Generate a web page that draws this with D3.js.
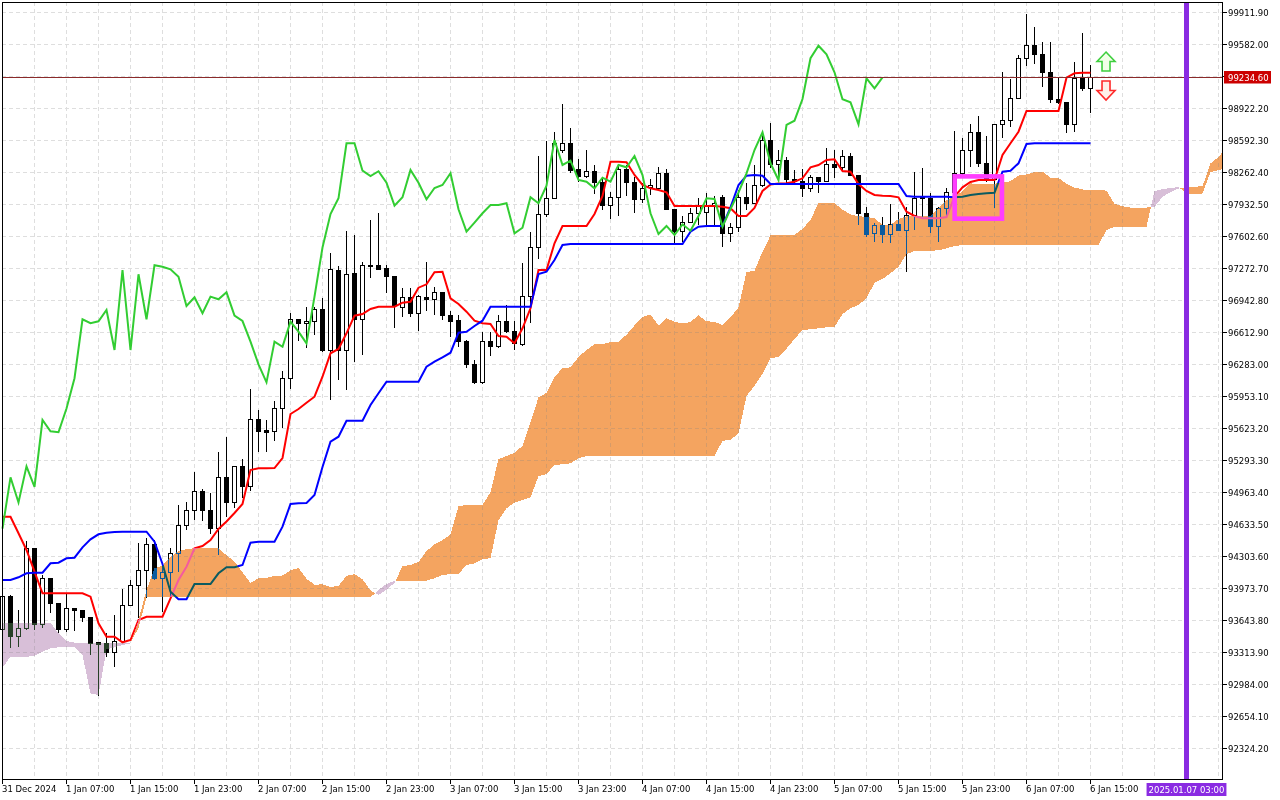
<!DOCTYPE html>
<html><head><meta charset="utf-8">
<script src="https://cdn.jsdelivr.net/npm/d3@7"></script>
<style>
html,body{margin:0;padding:0;background:#fff;overflow:hidden;}
svg{display:block;isolation:isolate;}
text{font-family:"DejaVu Sans",sans-serif;font-size:8.5px;}
</style></head><body>
<svg id="chart" width="1280" height="800"></svg>
<script>
// ---------------- DATA (BTCUSD H1, Ichimoku 9/26/52) ----------------
const timeLabels = ["31 Dec 2024","1 Jan 07:00","1 Jan 15:00","1 Jan 23:00","2 Jan 07:00","2 Jan 15:00","2 Jan 23:00","3 Jan 07:00","3 Jan 15:00","3 Jan 23:00","4 Jan 07:00","4 Jan 15:00","4 Jan 23:00","5 Jan 07:00","5 Jan 15:00","5 Jan 23:00","6 Jan 07:00","6 Jan 15:00"];
const timeLabelBars = [0,8,16,24,32,40,48,56,64,72,80,88,96,104,112,120,128,136];
const priceTicks = [92324.2,92654.1,92984.0,93313.9,93643.8,93973.7,94303.6,94633.5,94963.4,95293.3,95623.2,95953.1,96283.0,96612.9,96942.8,97272.7,97602.6,97932.5,98262.4,98592.3,98922.2,99252.1,99582.0,99911.9];
const priceTickLabels = ["92324.20","92654.10","92984.00","93313.90","93643.80","93973.70","94303.60","94633.50","94963.40","95293.30","95623.20","95953.10","96283.00","96612.90","96942.80","97272.70","97602.60","97932.50","98262.40","98592.30","98922.20","99252.10","99582.00","99911.90"];

const open = [93545,93888,93469,93555,94373,93597,94071,93813,93545,93762,
 93741,93669,93404,93394,93308,93414,93793,93999,94153,94421,
 94071,94133,94329,94613,94768,94964,94772,94582,95112,94852,
 95225,95012,95703,95592,95579,95821,96133,96741,96700,96720,
 96837,96424,97242,96424,97208,96741,97298,97298,97267,97187,
 96865,96968,96803,96968,96947,97019,96785,96731,96510,96277,
 96091,96510,96458,96716,96613,96476,96974,97483,97826,97988,
 98486,98555,98280,98218,98267,98149,97912,97999,98280,98149,
 97978,98098,98091,98246,97875,97644,97737,97834,97840,97902,
 97999,97627,97685,97994,97937,98118,98589,98332,98376,98184,
 98159,98091,98201,98159,98332,98308,98424,98228,97834,97627,
 97703,97617,97720,97654,97806,97994,97988,97696,97878,98048,
 98246,98486,98669,98349,98177,98744,98788,99012,99432,99561,
 99473,99287,99009,98978,98751,99225,99122];
const high = [93950,93899,93744,94455,94383,94105,94074,93816,93906,93765,
 93744,93672,93404,93504,93693,93961,94053,94438,94483,94466,
 94208,94386,94827,94857,95164,94988,94947,95370,95524,95229,
 95301,96022,95806,95700,95896,96210,96803,96744,96871,96871,
 96957,97421,97290,97651,97610,97335,97765,97834,97301,97187,
 97060,97060,96991,97329,97071,97022,96826,96785,96527,96321,
 96613,96613,96785,96888,96723,97318,97644,98424,98579,98675,
 98960,98710,98390,98486,98332,98211,98056,98342,98332,98211,
 98143,98187,98308,98287,97878,97806,97885,97988,98040,98012,
 98022,97731,98074,98143,98332,98675,98761,98486,98417,98280,
 98287,98228,98203,98504,98486,98486,98452,98228,97902,97737,
 97799,97930,97850,97902,98262,98298,98040,97902,98091,98682,
 98607,98754,98837,98631,98754,99293,99215,99466,99885,99751,
 99603,99603,99242,98981,99396,99689,99362];
const low = [93352,93352,93360,93538,93538,93558,93713,93507,93520,93531,
 93623,93280,92857,93256,93160,93404,93785,93658,93868,94053,
 93727,93854,94139,94569,94672,94665,94528,94311,94700,94792,
 94896,94974,95376,95370,95489,95615,96019,96520,96442,96579,
 96407,95909,96115,96012,96304,96373,97164,97249,97015,96648,
 96762,96762,96623,96830,96785,96734,96555,96458,96242,96074,
 96074,96363,96442,96600,96424,96466,96706,97359,97792,97981,
 98452,98246,98159,98194,98033,97868,97772,97806,98012,97834,
 97937,98022,98074,97868,97531,97541,97734,97713,97713,97713,
 97489,97541,97644,97868,97930,98108,98298,98211,98143,98125,
 98005,98056,98040,98156,98194,98280,98218,97713,97592,97541,
 97524,97524,97651,97232,97661,97799,97627,97541,97799,98022,
 98228,98314,98314,98156,97885,98613,98726,99007,99352,99370,
 99133,98968,98960,98665,98669,99098,98865];
const close = [93888,93469,93555,94373,93597,94071,93813,93538,93762,93737,
 93665,93401,93390,93304,93421,93793,93999,94153,94421,94071,
 94133,94329,94613,94768,94964,94768,94582,95112,94852,95225,
 95012,95703,95586,95576,95821,96133,96741,96700,96720,96837,
 96424,97249,96424,97205,96741,97298,97283,97256,97180,96878,
 96968,96803,96974,96947,97019,96778,96723,96510,96277,96091,
 96510,96458,96716,96613,96493,96974,97481,97826,97988,98555,
 98555,98273,98218,98267,98149,97912,97999,98280,98149,97978,
 98094,98125,98246,97875,97644,97737,97834,97919,97919,97937,
 97627,97685,97999,97937,98118,98589,98332,98376,98177,98159,
 98091,98201,98159,98332,98308,98424,98228,97834,97620,97703,
 97610,97720,97654,97806,97988,97981,97696,97878,98048,98246,
 98486,98669,98349,98177,98744,98788,99012,99432,99561,99473,
 99287,99009,98978,98751,99225,99122,99234.6];

const tenkan = [94705.6,94705.6,94534.5,94362.3,94138.6,93915.9,93915.9,93915.9,93915.9,93915.9,
 93915.9,93880.9,93606.6,93468.5,93468.5,93410.8,93434.5,93640.7,93674.7,93674.7,
 93674.7,93864.4,94053,94190.2,94379.9,94403.6,94465.4,94578.8,94656.1,94743.8,
 94836.6,95187.1,95204.6,95204.6,95207.7,95310.8,95764.4,95816,95880.9,95942.8,
 96148.9,96390.2,96434.5,96596.4,96777.8,96795.3,96846.9,96870.6,96870.6,96870.6,
 96911.8,96922.2,97066.5,97101.5,97225.3,97231.4,96957.2,96898.4,96819.1,96726.3,
 96699.5,96692.3,96568.5,96561.3,96493.3,96647.9,96854.1,97249,97249,97524.2,
 97702.6,97702.6,97702.6,97702.6,97826.3,98011.9,98365.5,98365.5,98359.3,98228.4,
 98125.3,98091.2,98073.7,98050,97908.8,97908.8,97908.8,97908.8,97908.8,97908.8,
 97901.5,97885.1,97805.7,97805.7,97888.1,98063.4,98130.4,98140.7,98142.8,98159.3,
 98194.3,98307.7,98331.4,98383,98390.2,98269.6,98262.4,98135.6,98063.4,98022.2,
 98015,98011.9,97998.5,97850,97805.7,97782,97782,97782,97795.4,98004.6,
 98101.5,98156.2,98176.8,98176.8,98176.8,98434.5,98555.2,98674.8,98888.2,98888.2,
 98888.2,98888.2,98888.2,99231.5,99276.8,99283,99283];
const kijun = [94053,94053,94080.9,94122.1,94128.3,94128.3,94225.2,94231.4,94276.8,94282.9,
 94390.2,94472.6,94524.2,94540.7,94547.9,94551,94551,94551,94551,94447.9,
 94218,93932.4,93854.1,93854.1,94011.8,94011.8,94011.8,94122.1,94184,94184,
 94207.7,94437.6,94447.9,94447.9,94447.9,94602.5,94836.6,94843.8,94846.9,94929.3,
 95218,95478.8,95530.4,95695.3,95695.3,95695.3,95857.2,95977.8,96097.4,96097.4,
 96097.4,96097.4,96097.4,96252,96303.6,96349,96396.4,96602.6,96612.9,96671.6,
 96726.3,96870.6,96870.6,96870.6,96870.6,96870.6,96870.6,97207.7,97231.4,97352.1,
 97506.7,97517,97517,97517,97517,97517,97517,97517,97517,97517,
 97517,97517,97517,97517,97517,97517,97643.8,97695.4,97702.6,97702.6,
 97702.6,97895.4,98125.3,98221.1,98228.4,98221.1,98135.6,98135.6,98135.6,98135.6,
 98135.6,98135.6,98135.6,98135.6,98135.6,98135.6,98135.6,98135.6,98135.6,98135.6,
 98135.6,98135.6,98135.6,98011.9,98004.6,98004.6,98004.6,98004.6,98004.6,97998.5,
 98004.6,98022.2,98032.5,98039.7,98045.9,98262.4,98272.7,98349,98547.9,98555.2,
 98555.2,98555.2,98555.2,98555.2,98555.2,98555.2,98555.2];
// Senkou spans, already shifted 26 bars forward (bars 0..153)
const senkouA = [93148.9,93262.3,93262.3,93262.3,93269.5,93313.9,93348.9,93359.2,93365.4,93365.4,
 93279.8,92885,92867.5,93338.6,93359.2,93382.9,93400.5,93640.7,93950,94173.7,
 94200.5,94293.3,94352,94372.6,94379.9,94379.9,94379.3,94379.3,94307.7,94242.2,
 94133.5,94022.1,94070.6,94073.7,94096.4,94099.4,94153.1,94176.8,94065.4,94004.6,
 94008.2,93980.9,93992.8,94095.9,94112.9,94061.3,93946.4,93898.4,93953.6,94022.2,
 94195.9,94207.7,94238.6,94350.5,94420.1,94463.9,94522.2,94812.4,94826.3,94826.3,
 94827.8,94956.7,95300.5,95329.9,95363.9,95436.1,95683.5,95934.5,95982.5,96145.9,
 96236.6,96245.3,96352.1,96424.2,96484,96484,96504.6,96509.8,96582,96676.8,
 96764.5,96790.2,96676.8,96750.5,96716,96699,96712.9,96781.5,96719.6,96716,
 96682,96759.3,96862.4,97228.4,97240.2,97438.2,97604.7,97609.8,97609.8,97609.8,
 97671.7,97764.5,97941.3,97941.3,97938.2,97872.7,97821.2,97804.1,97795.4,97783.5,
 97712.9,97712.9,97776.3,97802.1,97805.7,97805.7,97802.1,97890.3,97965.5,98013.4,
 98058.3,98142.3,98133,98138.2,98139.2,98147.5,98165,98221.7,98233.5,98259.3,
 98262.9,98202.6,98199,98135.6,98099.5,98078.9,98075.3,98073.8,98067.1,97931,
 97905.2,97893.3,97893.3,97893.3,97900,98001.6,98053.1,98089.2,98104.7,98108.3,
 98111.4,98348.5,98414,98511.9];
const senkouB = [93612.8,93612.8,93612.8,93612.8,93612.8,93612.8,93612.8,93503.6,93424.2,93406.6,
 93406.6,93406.6,93406.6,93406.6,93406.6,93406.6,93406.6,93558.2,93874.7,93874.7,
 93874.7,93874.7,93874.7,93874.7,93874.7,93874.7,93874.7,93874.7,93874.7,93874.7,
 93874.7,93874.7,93874.7,93874.7,93874.7,93874.7,93874.7,93874.7,93874.7,93874.7,
 93874.7,93874.7,93874.7,93874.7,93874.7,93874.7,93874.7,93950,94011.8,94045.8,
 94045.8,94045.8,94045.8,94045.8,94070.6,94104.6,94114.9,94114.9,94207.7,94225.2,
 94269.5,94276.8,94671.6,94792.2,94850,94877.8,94905.6,95125.2,95145.8,95238.6,
 95245.8,95256.2,95307.7,95331.4,95331.4,95331.4,95331.4,95331.4,95331.4,95331.4,
 95331.4,95331.4,95331.4,95331.4,95331.4,95331.4,95331.4,95331.4,95331.4,95331.4,
 95489.1,95496.4,95565.4,95950,96053.1,96176.8,96338.6,96355.1,96437.6,96537.6,
 96630.4,96637.6,96647.9,96658.2,96664.4,96795.3,96854.1,96888.1,96957.2,97118,
 97156.2,97214.9,97283,97410.8,97444.8,97447.9,97447.9,97452.1,97472.7,97496.4,
 97506.7,97506.7,97506.7,97506.7,97506.7,97506.7,97506.7,97506.7,97506.7,97506.7,
 97506.7,97506.7,97506.7,97506.7,97506.7,97506.7,97506.7,97506.7,97661.3,97695.4,
 97695.4,97695.4,97695.4,97695.4,98063.4,98084,98094.3,98104.6,98037.6,98037.6,
 98037.6,98259.3,98279.9,98300.5];
const chikouShift = 26;            // Chikou = close plotted 26 bars back
const currentPrice = 99234.6;
const currentPriceLabel = "99234.60";
const vlineBar = 148;
const vlineLabel = "2025.01.07 03:00";
const boxObject = {bar0: 119.02, bar1: 124.93, priceTop: 98214, priceBottom: 97778};
const arrowUp = {bar: 137.94, price: 99496};
const arrowDown = {bar: 137.94, price: 99197};

// ---------------- DRAWING ----------------
const W = 1280, H = 800;
const PL = 2, PT = 2, PR = 1222, PB = 779;
const svg = d3.select("#chart");
const x = d3.scaleLinear().domain([0, 148]).range([2.5, 1186.5]);
const y = d3.scaleLinear().domain([92324.2, 99911.9]).range([747.7, 11.7]);
const py = v => Math.round(y(v)) + 0.5;

svg.append("rect").attr("width", W).attr("height", H).attr("fill", "#fff");
const defs = svg.append("defs");
defs.append("clipPath").attr("id", "pc").append("rect")
  .attr("x", 0).attr("y", PT + 1).attr("width", PR).attr("height", PB - PT - 1);

// grid
const grid = svg.append("g").attr("stroke", "#dedede").attr("stroke-dasharray", "4,3")
  .attr("shape-rendering", "crispEdges").attr("clip-path", "url(#pc)");
d3.range(4, 153, 4).forEach(i => {
  grid.append("line").attr("x1", x(i)).attr("x2", x(i)).attr("y1", PT).attr("y2", PB);
});
priceTicks.forEach(v => {
  grid.append("line").attr("x1", PL).attr("x2", PR).attr("y1", py(v)).attr("y2", py(v));
});

// candles
const bars = d3.range(close.length);
const cg = svg.append("g").attr("clip-path", "url(#pc)").attr("shape-rendering", "crispEdges");
cg.selectAll("line").data(bars).join("line")
  .attr("x1", i => x(i)).attr("x2", i => x(i))
  .attr("y1", i => y(high[i])).attr("y2", i => y(low[i]))
  .attr("stroke", "#000");
cg.selectAll("rect").data(bars).join("rect")
  .attr("x", i => x(i) - 2).attr("width", 4)
  .attr("y", i => y(Math.max(open[i], close[i])))
  .attr("height", i => Math.max(0.6, Math.abs(y(open[i]) - y(close[i]))))
  .attr("fill", i => close[i] >= open[i] ? "#fff" : "#000")
  .attr("stroke", "#000");

// tenkan / kijun
const line = d3.line().x((d, i) => x(i)).y(d => y(d));
svg.append("path").datum(tenkan).attr("d", line).attr("fill", "none")
  .attr("stroke", "#ff0000").attr("stroke-width", 2).attr("clip-path", "url(#pc)");
svg.append("path").datum(kijun).attr("d", line).attr("fill", "none")
  .attr("stroke", "#0000ff").attr("stroke-width", 2).attr("clip-path", "url(#pc)");

// cloud (MT5 XOR-style filling emulated with exclusion blend)
let up = "", dn = "";
for (let i = 0; i < senkouA.length - 1; i++) {
  const x0 = x(i), x1 = x(i + 1);
  const a0 = y(senkouA[i]), a1 = y(senkouA[i + 1]);
  const b0 = y(senkouB[i]), b1 = y(senkouB[i + 1]);
  const d0 = senkouA[i] - senkouB[i], d1 = senkouA[i + 1] - senkouB[i + 1];
  if ((d0 >= 0 && d1 >= 0) || (d0 <= 0 && d1 <= 0)) {
    const p = `M${x0},${a0}L${x1},${a1}L${x1},${b1}L${x0},${b0}Z`;
    if (d0 + d1 >= 0) up += p; else dn += p;
  } else {
    const t = d0 / (d0 - d1);
    const xc = x0 + t * (x1 - x0), yc = a0 + t * (a1 - a0);
    const p1 = `M${x0},${a0}L${xc},${yc}L${x0},${b0}Z`;
    const p2 = `M${xc},${yc}L${x1},${a1}L${x1},${b1}Z`;
    if (d0 > 0) { up += p1; dn += p2; } else { dn += p1; up += p2; }
  }
}
svg.append("path").attr("d", up).attr("fill", "#0b5b9f").attr("clip-path", "url(#pc)")
  .attr("shape-rendering", "crispEdges").style("mix-blend-mode", "exclusion");
svg.append("path").attr("d", dn).attr("fill", "#274027").attr("clip-path", "url(#pc)")
  .attr("shape-rendering", "crispEdges").style("mix-blend-mode", "exclusion");

// chikou
svg.append("path").datum(close.slice(chikouShift)).attr("d", line).attr("fill", "none")
  .attr("stroke", "#32cd32").attr("stroke-width", 2).attr("clip-path", "url(#pc)");

// current price line
svg.append("line").attr("x1", PL).attr("x2", PR).attr("y1", py(currentPrice)).attr("y2", py(currentPrice))
  .attr("stroke", "#8b2a2a").attr("shape-rendering", "crispEdges");

// rectangle object
svg.append("rect")
  .attr("x", x(boxObject.bar0)).attr("y", y(boxObject.priceTop))
  .attr("width", x(boxObject.bar1) - x(boxObject.bar0))
  .attr("height", y(boxObject.priceBottom) - y(boxObject.priceTop))
  .attr("fill", "none").attr("stroke", "#ff3dff").attr("stroke-width", 4.6);

// arrows
const ax = x(arrowUp.bar), ay = y(arrowUp.price);
svg.append("path")
  .attr("d", `M${ax},${ay}L${ax+9},${ay+9.5}L${ax+4},${ay+9.5}L${ax+4},${ay+19}L${ax-4},${ay+19}L${ax-4},${ay+9.5}L${ax-9},${ay+9.5}Z`)
  .attr("fill", "#f2ffe8").attr("stroke", "#3fcf3f").attr("stroke-width", 1.6).attr("stroke-linejoin", "miter");
const dx = x(arrowDown.bar), dy = y(arrowDown.price);
svg.append("path")
  .attr("d", `M${dx-4},${dy}L${dx+4},${dy}L${dx+4},${dy+9.5}L${dx+9},${dy+9.5}L${dx},${dy+19}L${dx-9},${dy+9.5}L${dx-4},${dy+9.5}Z`)
  .attr("fill", "#fff0e8").attr("stroke", "#ff2a2a").attr("stroke-width", 1.6);

// vertical line object
svg.append("line").attr("x1", x(vlineBar)).attr("x2", x(vlineBar)).attr("y1", PT).attr("y2", PB)
  .attr("stroke", "#8a2be2").attr("stroke-width", 5);

// frame
const fr = svg.append("g").attr("stroke", "#000").attr("shape-rendering", "crispEdges");
fr.append("line").attr("x1", PL + 0.5).attr("x2", PL + 0.5).attr("y1", PT).attr("y2", PB + 1);
fr.append("line").attr("x1", PL).attr("x2", PR + 1).attr("y1", PT + 0.5).attr("y2", PT + 0.5);
fr.append("line").attr("x1", PR + 0.5).attr("x2", PR + 0.5).attr("y1", PT).attr("y2", PB + 1);
fr.append("line").attr("x1", PL).attr("x2", PR + 1).attr("y1", PB + 0.5).attr("y2", PB + 0.5);

// right price axis
const ra = svg.append("g");
priceTicks.forEach((v, k) => {
  const yy = py(v);
  ra.append("line").attr("x1", PR).attr("x2", PR + 5).attr("y1", yy).attr("y2", yy)
    .attr("stroke", "#000").attr("shape-rendering", "crispEdges");
  if (Math.abs(y(v) - y(currentPrice)) > 9) {
    ra.append("text").attr("x", PR + 6).attr("y", yy + 3).attr("fill", "#000").text(priceTickLabels[k]);
  }
});
const cpy = py(currentPrice);
ra.append("rect").attr("x", PR + 2).attr("y", cpy - 6.5).attr("width", 47).attr("height", 12.5).attr("fill", "#cc0000");
ra.append("text").attr("x", PR + 6).attr("y", cpy + 3).attr("fill", "#fff").text(currentPriceLabel);

// bottom time axis
const ba = svg.append("g");
timeLabelBars.forEach((b, k) => {
  const xx = x(b);
  ba.append("line").attr("x1", xx).attr("x2", xx).attr("y1", PB).attr("y2", PB + 5)
    .attr("stroke", "#000").attr("shape-rendering", "crispEdges");
  ba.append("text").attr("x", xx - 0.5).attr("y", 792).attr("fill", "#000").text(timeLabels[k]);
});
const vt = ba.append("text").attr("y", 792.5).attr("fill", "#fff").attr("text-anchor", "middle")
  .attr("x", x(vlineBar)).text(vlineLabel);
const tw = vt.node().getComputedTextLength();
ba.insert("rect", "text:last-child").attr("x", x(vlineBar) - tw / 2 - 2).attr("y", 783)
  .attr("width", tw + 4).attr("height", 13).attr("fill", "#8a2be2");
vt.raise();
</script>
</body></html>
